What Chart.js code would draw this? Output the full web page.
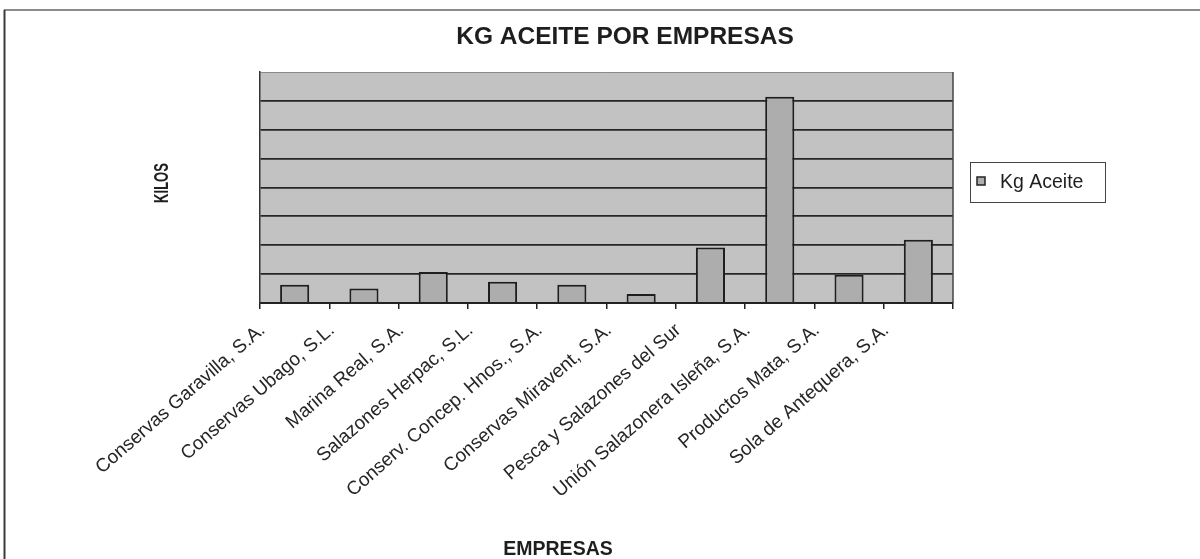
<!DOCTYPE html>
<html><head><meta charset="utf-8">
<script src="https://cdn.jsdelivr.net/npm/chart.js@4"></script>
<style>html,body{margin:0;padding:0;background:#fff;} canvas{display:block;}</style>
</head><body>
<canvas id="c" width="1200" height="559"></canvas>
<script>
const categories = ["Conservas Garavilla, S.A.", "Conservas Ubago, S.L.", "Marina Real, S.A.", "Salazones Herpac, S.L.", "Conserv. Concep. Hnos., S.A.", "Conservas Miravent, S.A.", "Pesca y Salazones del Sur", "Unión Salazonera Isleña, S.A.", "Productos Mata, S.A.", "Sola de Antequera, S.A."];
const kgAceite = [3150, 2500, 5350, 3700, 3150, 1550, 9600, 35700, 4900, 10950];
const seriesName = "Kg Aceite";
const chartTitle = "KG ACEITE POR EMPRESAS";
const xTitle = "EMPRESAS";
const yTitle = "KILOS";
const yMax = 40000;
const yStep = 5000;

const FONT = '"Liberation Sans", Arial, sans-serif';
const BAR_FILL = '#adadad';
const INK = '#1e1e1e';

const decor = {
  id: 'decor',
  beforeDraw(chart) {
    const {ctx, chartArea: a} = chart;
    ctx.save();
    ctx.fillStyle = '#fff';
    ctx.fillRect(0, 0, chart.width, chart.height);
    ctx.fillStyle = '#c2c2c2';
    ctx.fillRect(a.left, a.top, a.right - a.left, a.bottom - a.top);
    ctx.restore();
  },
  afterDraw(chart) {
    const {ctx, chartArea: a} = chart;
    ctx.save();
    // right border of plot
    ctx.strokeStyle = '#444'; ctx.lineWidth = 1.5;
    ctx.beginPath(); ctx.moveTo(a.right, a.top); ctx.lineTo(a.right, a.bottom); ctx.stroke();
    // outer frame
    ctx.strokeStyle = '#8c8c8c'; ctx.lineWidth = 2;
    ctx.beginPath(); ctx.moveTo(4, 10); ctx.lineTo(1200, 10); ctx.stroke();
    ctx.strokeStyle = '#3a3a3a';
    ctx.beginPath(); ctx.moveTo(4.5, 10); ctx.lineTo(4.5, 559); ctx.stroke();
    // titles
    ctx.fillStyle = INK; ctx.textAlign = 'center'; ctx.textBaseline = 'alphabetic';
    ctx.font = 'bold 24.5px ' + FONT;
    ctx.fillText(chartTitle, 625, 43.5);
    ctx.font = 'bold 19.5px ' + FONT;
    ctx.fillText(xTitle, 558, 555);
    ctx.save();
    ctx.translate(168, 183);
    ctx.rotate(-Math.PI / 2);
    ctx.scale(0.62, 1);
    ctx.font = 'bold 21px ' + FONT;
    ctx.fillText(yTitle, 0, 0);
    ctx.restore();
    // legend
    ctx.strokeStyle = '#444'; ctx.lineWidth = 1;
    ctx.strokeRect(970.5, 162.5, 135, 40);
    ctx.fillStyle = BAR_FILL;
    ctx.fillRect(977, 177, 8, 8);
    ctx.strokeStyle = '#222'; ctx.lineWidth = 1.5;
    ctx.strokeRect(977, 177, 8, 8);
    ctx.fillStyle = INK; ctx.textAlign = 'left';
    ctx.font = '19.5px ' + FONT;
    ctx.fillText(chart.data.datasets[0].label, 1000, 187.7);
    ctx.restore();
  }
};

new Chart(document.getElementById('c'), {
  type: 'bar',
  data: {
    labels: categories,
    datasets: [{
      label: seriesName,
      data: kgAceite,
      backgroundColor: BAR_FILL,
      borderColor: '#1e1e1e',
      borderWidth: 2,
      barPercentage: 0.42,
      categoryPercentage: 1
    }]
  },
  options: {
    responsive: false,
    animation: false,
    devicePixelRatio: 1,
    layout: { padding: { left: 0, top: 72, right: 247, bottom: 0 } },
    plugins: { legend: { display: false }, title: { display: false }, tooltip: { enabled: false } },
    scales: {
      x: {
        grid: { display: true, offset: true, drawOnChartArea: false, drawTicks: true, tickLength: 6, color: '#222', lineWidth: 1.5 },
        border: { display: true, color: '#222', width: 2 },
        ticks: { autoSkip: false, minRotation: 41, maxRotation: 41, labelOffset: -32, padding: 10, color: '#262626', font: { family: FONT, size: 19 } },
        afterFit(s) { s.height = 256; }
      },
      y: {
        min: 0, max: yMax,
        ticks: { display: false, stepSize: yStep },
        grid: {
          drawTicks: false,
          color: c => (c.tick && c.tick.value === yMax) ? '#8a8a8a' : '#262626',
          lineWidth: c => (c.tick && c.tick.value === yMax) ? 1 : 1.8
        },
        border: { display: true, color: '#333', width: 1.5 },
        afterFit(s) { s.width = 260; }
      }
    }
  },
  plugins: [decor]
});
</script>
</body></html>
